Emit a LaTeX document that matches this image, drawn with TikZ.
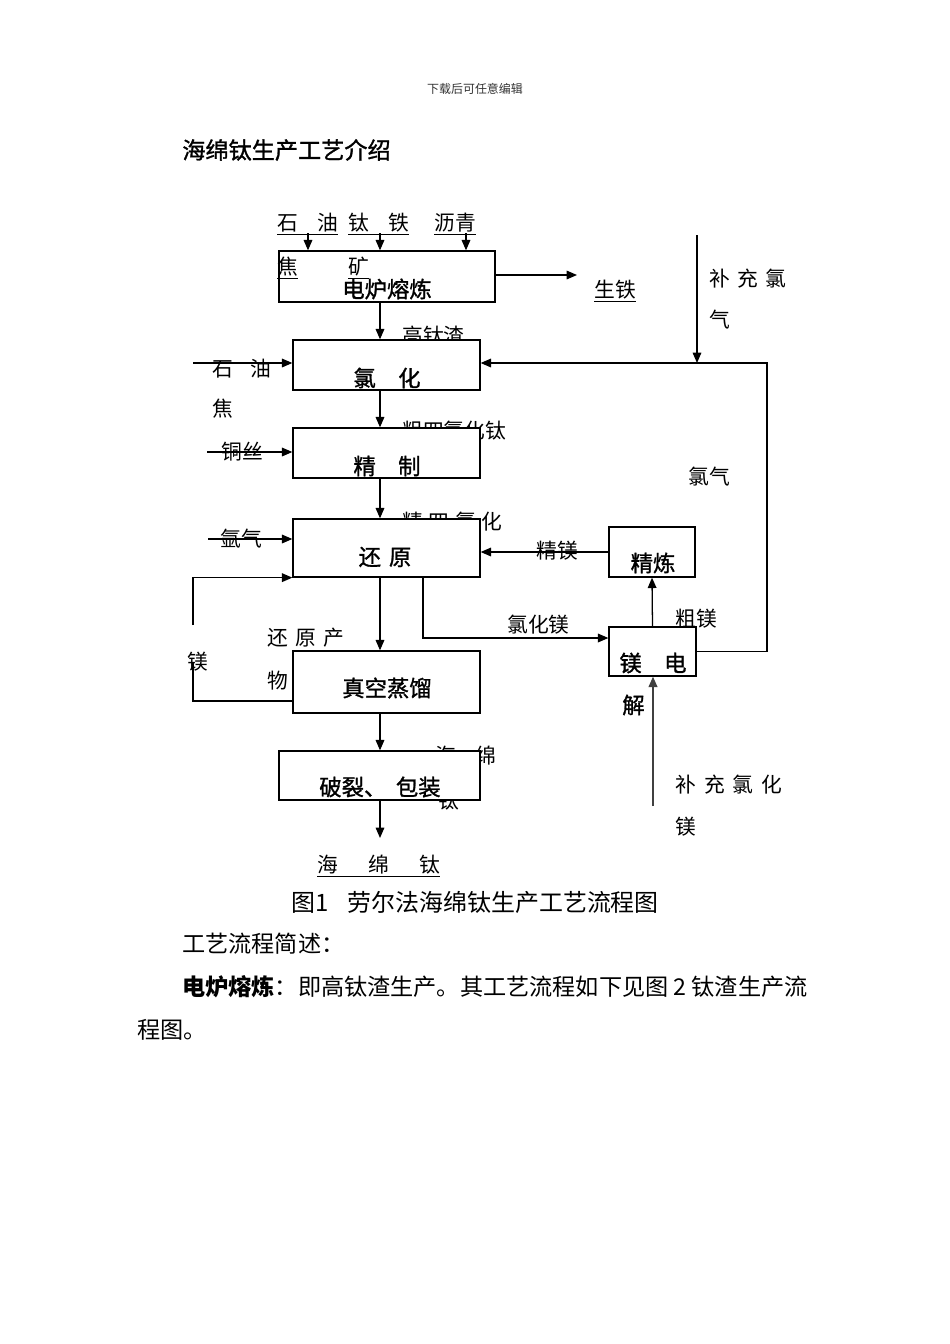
\documentclass[tikz,border=0pt]{standalone}
\usepackage{fontspec}
\setmainfont{Noto Sans CJK SC}
\newfontfamily\boxfont[FakeBold=1.2]{Noto Sans CJK SC}
\usetikzlibrary{arrows.meta}
\newcommand\pxu{0.6263pt}

\begin{document}
\begin{tikzpicture}[
  x=0.6263pt,y=-0.6263pt,
  font=\fontsize{13}{15}\selectfont,
  box/.style={draw,fill=white,line width=0.8pt,inner sep=0pt},
  boxtxt/.style={font=\fontsize{14}{16}\selectfont\boxfont,inner sep=0pt},
  lbl/.style={inner sep=0pt,anchor=west},
  ulbl/.style={inner sep=0pt,anchor=base west},
  arr/.style={-{Triangle[length=6.5pt,width=5.4pt]},line width=0.8pt},
  arrthick/.style={arr,line width=1.2pt,black!75},
  ln/.style={line width=0.8pt},
  body/.style={font=\fontsize{14.5}{17}\selectfont,inner sep=0pt,anchor=west}]
  \useasboundingbox (0,0) rectangle (950,1344);
  % page header and title
  \node[font=\fontsize{7.5}{9}\selectfont,black!80,inner sep=0pt] (head) at (475,89) {下载后可任意编辑};
  \node[body,font=\fontsize{14.5}{17}\selectfont\boxfont] (title) at (182,150) {海绵钛生产工艺介绍};
  % labels that the boxes partly cover
  \node[lbl] (slag) at (402,336) {高钛渣};
  \node[lbl] (crude) at (402,431) {粗四氯化钛};
  \node[lbl] (pure) at (402,522) {精\hspace{3.5pt}四\hspace{3.5pt}氯\hspace{3.5pt}化};
  \node[lbl] (sponge1) at (435,756) {海\hspace{12pt}绵};
  \node[lbl] (sponge2) at (438,801) {钛};
  \node[lbl] (rawmg) at (675,619) {粗镁};
  % process boxes
  \node[box,minimum width=216*\pxu,minimum height=51*\pxu] (furnace) at (387,276.5) {};
  \node[box,minimum width=187*\pxu,minimum height=50*\pxu] (chlor) at (386.5,365) {};
  \node[box,minimum width=187*\pxu,minimum height=50*\pxu] (refine) at (386.5,453) {};
  \node[box,minimum width=187*\pxu,minimum height=58*\pxu] (reduce) at (386.5,548) {};
  \node[box,minimum width=187*\pxu,minimum height=62*\pxu] (vacuum) at (386.5,682) {};
  \node[box,minimum width=201*\pxu,minimum height=49*\pxu] (pack) at (379.5,775.5) {};
  \node[box,minimum width=86*\pxu,minimum height=50*\pxu] (mgref) at (652,552) {};
  \node[box,minimum width=87*\pxu,minimum height=49*\pxu] (electro) at (652.5,651.5) {};
  % box texts
  \node[boxtxt] at (387,289) {电炉熔炼};
  \node[boxtxt] at (387,378) {氯\hspace{1em}化};
  \node[boxtxt] at (387,466) {精\hspace{1em}制};
  \node[boxtxt] at (385,557) {还\hspace{5pt}原};
  \node[boxtxt] at (387,688) {真空蒸馏};
  \node[boxtxt] at (380,787) {破裂、\hspace{6pt}包装};
  \node[boxtxt] at (653,563) {精炼};
  \node[boxtxt] at (653,663) {镁\hspace{1em}电};
  \node[boxtxt,anchor=west] (jie) at (622,705) {解};
  % furnace inputs and outputs
  \node[ulbl] (coke) at (277,230) {\underline{石\hspace{12pt}油}};
  \node[ulbl] (ore) at (348,230) {\underline{钛\hspace{12pt}铁}};
  \node[ulbl] (pitch) at (434,230) {\underline{沥青}};
  \node[ulbl] (coke2) at (277,274) {\underline{焦}};
  \node[ulbl] (ore2) at (348,274) {\underline{矿}};
  \node[ulbl] (iron) at (594,297) {\underline{生铁}};
  \coordinate (in1) at (308,233);
  \coordinate (in2) at (380,233);
  \coordinate (in3) at (466,233);
  \coordinate (pigend) at (577,275);
  \draw[arr] (in1) -- (furnace.north -| in1);
  \draw[arr] (in2) -- (furnace.north -| in2);
  \draw[arr] (in3) -- (furnace.north -| in3);
  \draw[arr] (furnace.east |- pigend) -- (pigend);
  % main line
  \coordinate (ax) at (380,0);
  \coordinate (prod) at (380,838);
  \draw[arr] (furnace.south -| ax) -- (chlor.north -| ax);
  \draw[arr] (chlor.south -| ax) -- (refine.north -| ax);
  \draw[arr] (refine.south -| ax) -- (reduce.north -| ax);
  \draw[arr] (reduce.south -| ax) -- (vacuum.north -| ax);
  \draw[arr] (vacuum.south -| ax) -- (pack.north -| ax);
  \draw[arr] (pack.south -| ax) -- (prod);
  \node[ulbl] (sponge) at (317,872) {\underline{海\hspace{19pt}绵\hspace{19pt}钛}};
  % side inputs
  \coordinate (cokein) at (193,363);
  \coordinate (cuin) at (207,452);
  \coordinate (arin) at (208,539);
  \draw[arr] (cokein) -- (chlor.west |- cokein);
  \draw[arr] (cuin) -- (refine.west |- cuin);
  \draw[arr] (arin) -- (reduce.west |- arin);
  \node[lbl] (coke3) at (212,369) {石\hspace{11pt}油};
  \node[lbl] (coke4) at (212,409) {焦};
  \node[lbl] (cu) at (221,452) {铜丝};
  \node[lbl] (ar) at (220,539) {氩气};
  % magnesium loop from distillation
  \coordinate (mgtop) at (193,625);
  \coordinate (mgbot) at (193,663);
  \coordinate (lp) at (0,701);
  \draw[arr] (mgtop) |- (reduce.south west);
  \draw[ln] (mgbot) |- (vacuum.west |- lp);
  \node[lbl] (mg) at (187,662) {镁};
  \node[lbl] (redprod) at (267,638) {还\hspace{4.5pt}原\hspace{4.5pt}产};
  \node[lbl] (redprod2) at (267,681) {物};
  % magnesium chloride to electrolysis
  \coordinate (mgcl) at (423,638);
  \draw[arr] (reduce.south -| mgcl) -- (mgcl) -- (electro.west |- mgcl);
  \node[lbl] (mgcllbl) at (507,625) {氯化镁};
  \draw[arr] (electro.north) -- (mgref.south);
  \draw[arr] (mgref.west) -- (reduce.east |- mgref.west);
  \node[lbl] (puremg) at (536,551) {精镁};
  % chlorine return
  \coordinate (ret) at (767,363);
  \coordinate (clin) at (697,235);
  \draw[arr] (electro.east) -| (ret) -- (chlor.east |- ret);
  \draw[arr] (clin) -- (clin |- ret);
  \node[lbl] (cladd) at (709,279) {补\hspace{4.5pt}充\hspace{4.5pt}氯};
  \node[lbl] (cladd2) at (709,320) {气};
  \node[lbl] (cl) at (688,477) {氯气};
  \coordinate (mgclin) at (653,806);
  \draw[arrthick] (mgclin) -- (electro.south -| mgclin);
  \node[lbl] (mgcladd) at (675,785) {补\hspace{5pt}充\hspace{5pt}氯\hspace{5pt}化};
  \node[lbl] (mgcladd2) at (675,827) {镁};
  % caption and text below
  \node[font=\fontsize{15}{17}\selectfont,inner sep=0pt] (cap) at (475,902) {图1\hspace{12pt}劳尔法海绵钛生产工艺流程图};
  \node[body] (txt1) at (182,944) {工艺流程简述：};
  \node[body] (txt2) at (182,987) {{\bfseries 电炉熔炼}：即高钛渣生产。其工艺流程如下见图 2 钛渣生产流};
  \node[body] (txt3) at (137,1030) {程图。};
\end{tikzpicture}
\end{document}
